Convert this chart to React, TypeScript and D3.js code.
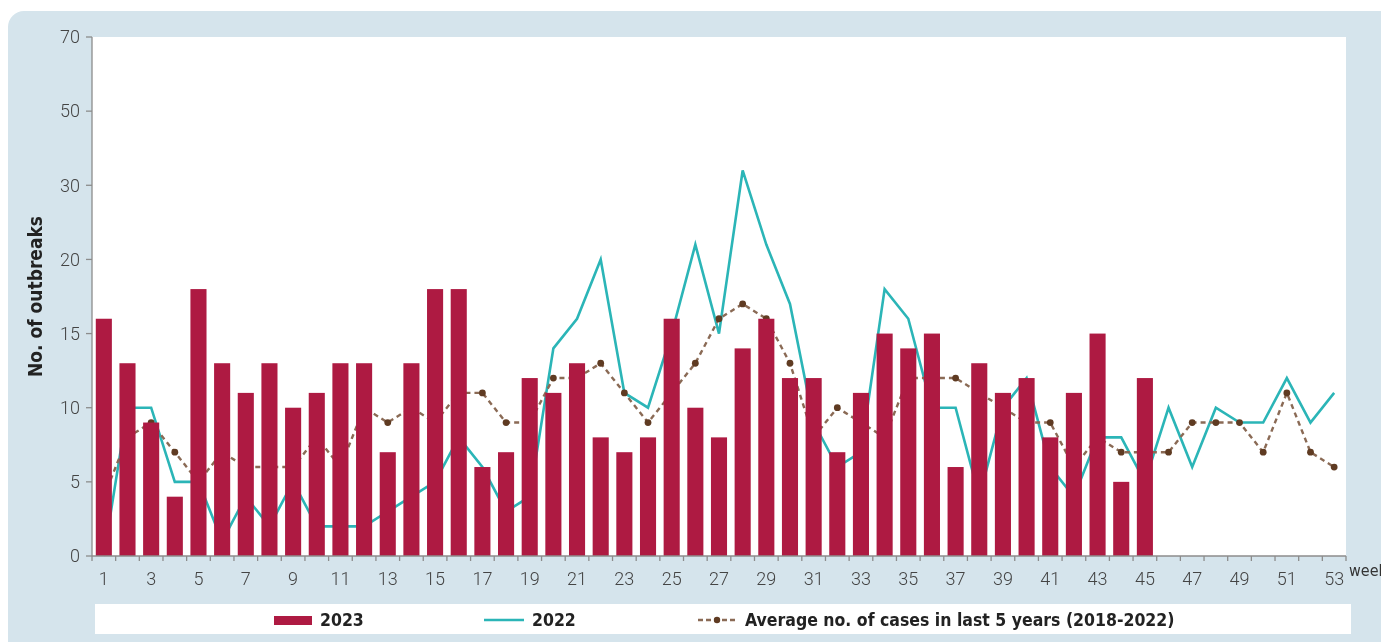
import * as d3 from 'd3';

// weekly outbreaks
const weeks = d3.range(1, 54);
const cases2023 = [16, 13, 9, 4, 18, 13, 11, 13, 10, 11, 13, 13, 7, 13, 18, 18, 6, 7, 12, 11, 13, 8, 7, 8, 16, 10, 8, 14, 16, 12, 12, 7, 11, 15, 14, 15, 6, 13, 11, 12, 8, 11, 15, 5, 12];
const cases2022 = [0, 10, 10, 5, 5, 1, 4, 2, 5, 2, 2, 2, 3, 4, 5, 8, 6, 3, 4, 14, 16, 20, 11, 10, 15, 21, 15, 26, 21, 17, 9, 6, 7, 18, 16, 10, 10, 4, 10, 12, 6, 4, 8, 8, 5, 10, 6, 10, 9, 9, 12, 9, 11];
const average5y = [4, 8, 9, 7, 5, 7, 6, 6, 6, 8, 6, 10, 9, 10, 9, 11, 11, 9, 9, 12, 12, 13, 11, 9, 11, 13, 16, 17, 16, 13, 8, 10, 9, 8, 12, 12, 12, 11, 10, 9, 9, 6, 8, 7, 7, 7, 9, 9, 9, 7, 11, 7, 6];
// the printed axis labels (upper ones are as printed in the source)
const yTicks = [0, 5, 10, 15, 20, 25, 30, 35];
const yTickLabels = ['0', '5', '10', '15', '20', '30', '50', '70'];
const legendLabels = ['2023', '2022', 'Average no. of cases in last 5 years (2018-2022)'];

const W = 1381;
const H = 642;
const margin = { left: 92, right: 35, top: 37, bottom: 86 };

const C_BAR = '#ae1a42';
const C_2022 = '#2bb5b7';
const C_AVG = '#8a6a55';
const C_DOT = '#5f3b22';
const C_BG = '#d5e4ec';
const C_AXIS = '#8c8c8c';
const FONT = "'DejaVu Sans Condensed', sans-serif";
const TICK_FONT = "Roboto, sans-serif";

const App = () => {
  const x = d3
    .scaleBand<number>()
    .domain(weeks)
    .range([margin.left, W - margin.right])
    .paddingInner(0.32)
    .paddingOuter(0.16);
  const y = d3.scaleLinear().domain([0, 35]).range([H - margin.bottom, margin.top]);
  const cx = (w: number) => (x(w) ?? 0) + x.bandwidth() / 2;
  const step = x.step();
  const x0 = margin.left;
  const x1 = W - margin.right;
  const yBase = y(0);

  const line = d3
    .line<number>()
    .x((_, i) => cx(weeks[i]))
    .y((d) => y(d));

  return (
    <div style={{ position: 'fixed', left: 0, top: 0 }}>
      <svg width={W} height={H} style={{ display: 'block' }} fontFamily={FONT}>
        <rect x={8} y={11} width={W + 40} height={H + 40} rx={16} fill={C_BG} />
        <rect x={x0} y={margin.top} width={x1 - x0} height={yBase - margin.top} fill="#fff" />

        {/* lines sit behind the bars */}
        <path d={line(cases2022) ?? ''} fill="none" stroke={C_2022} strokeWidth={2.6} />
        <path d={line(average5y) ?? ''} fill="none" stroke={C_AVG} strokeWidth={2.4} strokeDasharray="5,4" />
        {average5y.map((d, i) => (
          <circle key={i} cx={cx(weeks[i])} cy={y(d)} r={3.4} fill={C_DOT} />
        ))}

        {cases2023.map((d, i) => (
          <rect key={i} x={x(weeks[i])} y={y(d)} width={x.bandwidth()} height={yBase - y(d)} fill={C_BAR} />
        ))}

        {/* y axis */}
        <line x1={x0} x2={x0} y1={margin.top} y2={yBase} stroke={C_AXIS} strokeWidth={1.3} />
        {yTicks.map((t, i) => (
          <g key={t}>
            <line x1={x0 - 6} x2={x0} y1={y(t)} y2={y(t)} stroke={C_AXIS} strokeWidth={1.3} />
            <text x={80} y={y(t)} dy="0.35em" textAnchor="end" fontSize={18} fontFamily={TICK_FONT} fontWeight={300} fill="#444">
              {yTickLabels[i]}
            </text>
          </g>
        ))}
        <text
          transform={`translate(42,${(margin.top + yBase) / 2}) rotate(-90)`}
          textAnchor="middle"
          fontSize={19}
          fontWeight="bold"
          fill="#222"
        >
          No. of outbreaks
        </text>

        {/* x axis */}
        <line x1={x0} x2={x1} y1={yBase} y2={yBase} stroke={C_AXIS} strokeWidth={1.3} />
        {d3.range(weeks.length + 1).map((i) => (
          <line key={i} x1={x0 + i * step} x2={x0 + i * step} y1={yBase} y2={yBase + 5} stroke={C_AXIS} strokeWidth={1.3} />
        ))}
        {weeks
          .filter((w) => w % 2 === 1)
          .map((w) => (
            <text key={w} x={cx(w)} y={585} textAnchor="middle" fontSize={18} fontFamily={TICK_FONT} fontWeight={300} fill="#444">
              {w}
            </text>
          ))}
        <text x={1349} y={576} fontSize={16} fill="#333">
          week
        </text>

        {/* legend */}
        <rect x={95} y={604} width={1256} height={30} fill="#fff" />
        <rect x={274} y={616} width={38} height={9} fill={C_BAR} />
        <text x={320} y={626} fontSize={17.5} fontWeight="bold" fill="#222">
          {legendLabels[0]}
        </text>
        <line x1={484} x2={524} y1={620} y2={620} stroke={C_2022} strokeWidth={2.6} />
        <text x={532} y={626} fontSize={17.5} fontWeight="bold" fill="#222">
          {legendLabels[1]}
        </text>
        <line x1={698} x2={737} y1={620} y2={620} stroke={C_AVG} strokeWidth={2.4} strokeDasharray="5,3" />
        <circle cx={717} cy={620} r={3.2} fill={C_DOT} />
        <text x={745} y={626} fontSize={17.5} fontWeight="bold" fill="#222">
          {legendLabels[2]}
        </text>
      </svg>
    </div>
  );
};

export default App;
